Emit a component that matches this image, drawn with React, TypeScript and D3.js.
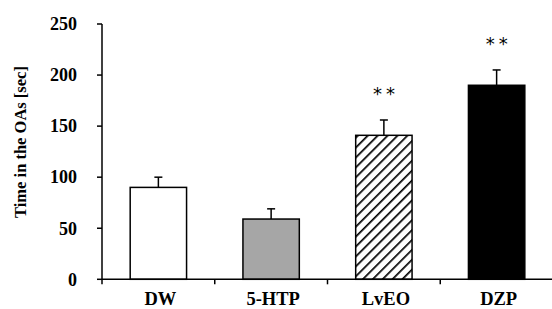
import React from 'react';
import * as d3 from 'd3';

const categories = ['DW', '5-HTP', 'LvEO', 'DZP'];
const means = [90, 59, 141, 190];
const errors = [10, 10, 15, 15];
const marks = ['', '', '**', '**'];
const yTicks = [0, 50, 100, 150, 200, 250];

const width = 552;
const height = 309;
const margin = { top: 24, right: 0, bottom: 30, left: 102 };

const fills = ['#ffffff', '#a6a6a6', 'url(#hatch)', '#000000'];

const App: React.FC = () => {
  const innerW = width - margin.left - margin.right + 1;
  const innerH = height - margin.top - margin.bottom + 0.3;

  const x = d3.scaleBand<string>().domain(categories).range([0, innerW]).paddingInner(0.5).paddingOuter(0.25);
  const y = d3.scaleLinear().domain([0, 250]).range([innerH, 0]);
  const tickX = categories.map((_, i) => (innerW / categories.length) * i);

  const font = '"Liberation Serif", "Times New Roman", serif';

  return (
    <svg width={width} height={height} style={{ position: 'absolute', left: 0, top: 0, background: '#fff' }}>
      <defs>
        <pattern id="hatch" patternUnits="userSpaceOnUse" width={7} height={7} patternTransform="rotate(45)">
          <rect width={7} height={7} fill="#fff" />
          <line x1={0} y1={0} x2={0} y2={7} stroke="#000" strokeWidth={3.4} />
        </pattern>
      </defs>
      <g transform={`translate(${margin.left},${margin.top})`}>
        {/* bars */}
        {categories.map((c, i) => {
          const bx = x(c) as number;
          const top = y(means[i]);
          const errTop = y(means[i] + errors[i]);
          const cx = bx + x.bandwidth() / 2;
          return (
            <g key={c}>
              <line x1={cx} x2={cx} y1={top} y2={errTop} stroke="#000" strokeWidth={1.5} />
              <line x1={cx - 4} x2={cx + 4} y1={errTop} y2={errTop} stroke="#000" strokeWidth={1.5} />
              <rect x={bx} y={top} width={x.bandwidth()} height={innerH - top} fill={fills[i]} stroke="#000" strokeWidth={1.5} />
              {marks[i] && (
                <text x={cx + 2} y={errTop - 20} textAnchor="middle" fontFamily="'DejaVu Sans', sans-serif" fontSize={18} letterSpacing={4}>
                  {marks[i]}
                </text>
              )}
            </g>
          );
        })}

        {/* y axis */}
        <line x1={0} x2={0} y1={0} y2={innerH} stroke="#000" strokeWidth={1.5} />
        {yTicks.map(t => (
          <g key={t} transform={`translate(0,${y(t)})`}>
            <line x1={-5} x2={0} stroke="#000" strokeWidth={1.5} />
            <text x={-25} dy="0.35em" textAnchor="end" fontFamily={font} fontWeight="bold" fontSize={18}>
              {t}
            </text>
          </g>
        ))}
        <text
          transform={`translate(${-81.5},${118}) rotate(-90)`}
          textAnchor="middle"
          dy="0.35em"
          fontFamily={font}
          fontWeight="bold"
          fontSize={16.5}
        >
          Time in the OAs [sec]
        </text>

        {/* x axis */}
        <line x1={0} x2={innerW} y1={innerH} y2={innerH} stroke="#000" strokeWidth={1.5} />
        {tickX.map((tx, i) => (
          <line key={i} x1={tx} x2={tx} y1={innerH} y2={innerH + 5} stroke="#000" strokeWidth={1.5} />
        ))}
        {categories.map(c => (
          <text
            key={c}
            x={(x(c) as number) + x.bandwidth() / 2 + 2}
            y={innerH + 26}
            textAnchor="middle"
            fontFamily={font}
            fontWeight="bold"
            fontSize={18.5}
          >
            {c}
          </text>
        ))}
      </g>
    </svg>
  );
};

export default App;
